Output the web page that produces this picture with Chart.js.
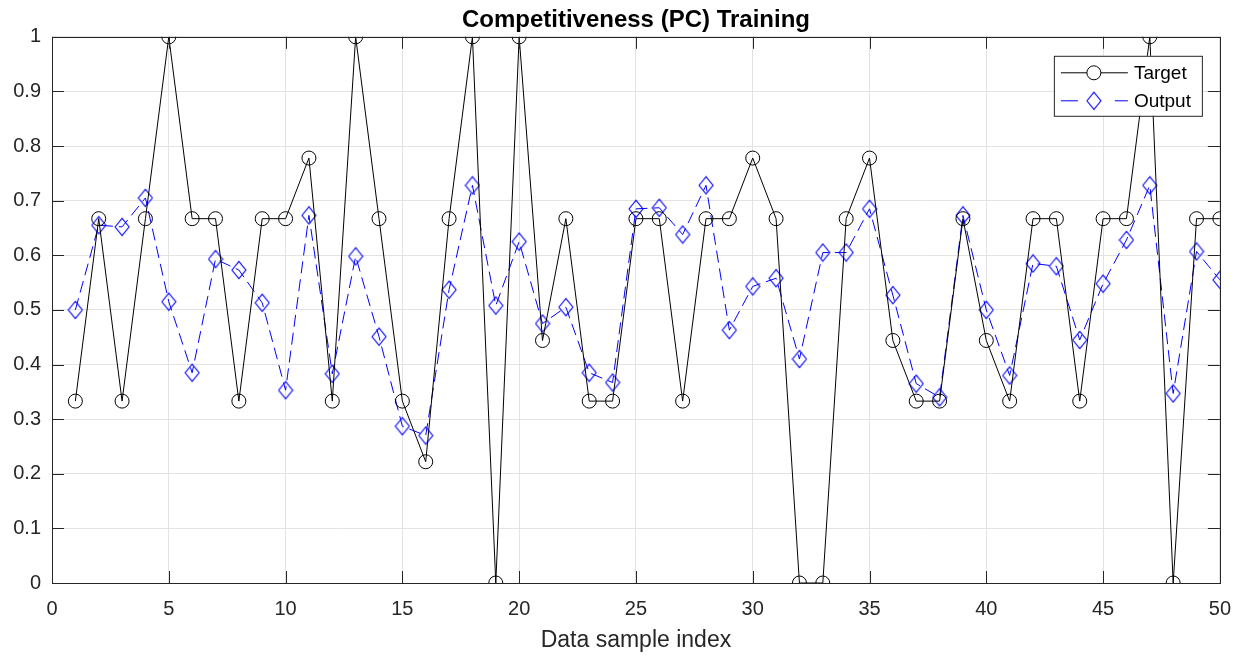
<!DOCTYPE html>
<html>
<head>
<meta charset="utf-8">
<script src="https://cdn.jsdelivr.net/npm/chart.js@4.4.1/dist/chart.umd.min.js"></script>
<style>
  html, body { margin: 0; padding: 0; background: #fff; }
  #wrap { width: 1245px; height: 657px; }
</style>
</head>
<body>
<div id="wrap"><canvas id="chartResults"></canvas></div>
<script>
'use strict';

// data
var sampleIndex = [];
for (let i = 1; i <= 50; ++i) sampleIndex.push(i);

var targetValues = [
  0.333, 0.667, 0.333, 0.667, 1, 0.667, 0.667, 0.333, 0.667, 0.667,
  0.778, 0.333, 1, 0.667, 0.333, 0.222, 0.667, 1, 0, 1,
  0.444, 0.667, 0.333, 0.333, 0.667, 0.667, 0.333, 0.667, 0.667, 0.778,
  0.667, 0, 0, 0.667, 0.778, 0.444, 0.333, 0.333, 0.667, 0.444,
  0.333, 0.667, 0.667, 0.333, 0.667, 0.667, 1, 0, 0.667, 0.667
];

var outputValues = [
  0.500, 0.655, 0.652, 0.705, 0.515, 0.385, 0.593, 0.573, 0.513, 0.353,
  0.673, 0.383, 0.598, 0.451, 0.287, 0.270, 0.537, 0.728, 0.508, 0.625,
  0.475, 0.505, 0.385, 0.367, 0.685, 0.687, 0.638, 0.728, 0.463, 0.543,
  0.558, 0.410, 0.605, 0.605, 0.685, 0.527, 0.365, 0.340, 0.673, 0.500,
  0.380, 0.585, 0.580, 0.445, 0.548, 0.628, 0.728, 0.347, 0.607, 0.555
];

var xTicks = [0, 5, 10, 15, 20, 25, 30, 35, 40, 45, 50];
var yTicks = [0, 0.1, 0.2, 0.3, 0.4, 0.5, 0.6, 0.7, 0.8, 0.9, 1];

function toPoints(vals){
  return vals.map(function(v, i){ return { x: sampleIndex[i], y: v }; });
}

var FONT = '"Liberation Sans", Arial, Helvetica, sans-serif';
var AXIS_COLOR = '#262626';
var TITLE = 'Competitiveness (PC) Training';

// matlab style diamond marker is a bit taller than wide
function makeDiamond(color){
  var c = document.createElement('canvas');
  c.width = 16; c.height = 20;
  var g = c.getContext('2d');
  g.strokeStyle = color;
  g.lineWidth = 1.1;
  g.beginPath();
  g.moveTo(1, 10); g.lineTo(8, 1.3); g.lineTo(15, 10); g.lineTo(8, 18.7);
  g.closePath();
  g.stroke();
  return c;
}
var diamondMarker = makeDiamond('#0000ff');

// box, inward ticks, title and legend like the original figure
var matlabAxes = {
  id: 'matlabAxes',
  afterDraw: function(chart){
    var ctx = chart.ctx;
    var a = chart.chartArea;
    var xs = chart.scales.x, ys = chart.scales.y;
    var tl = 12;
    ctx.save();
    ctx.strokeStyle = AXIS_COLOR;
    ctx.lineWidth = 1;
    ctx.beginPath();
    xTicks.forEach(function(t){
      var px = Math.round(xs.getPixelForValue(t)) + 0.5;
      ctx.moveTo(px, a.bottom); ctx.lineTo(px, a.bottom - tl);
      ctx.moveTo(px, a.top); ctx.lineTo(px, a.top + tl);
    });
    yTicks.forEach(function(t){
      var py = Math.round(ys.getPixelForValue(t)) + 0.5;
      ctx.moveTo(a.left, py); ctx.lineTo(a.left + tl, py);
      ctx.moveTo(a.right, py); ctx.lineTo(a.right - tl, py);
    });
    ctx.stroke();
    ctx.strokeRect(Math.round(a.left) + 0.5, Math.round(a.top) + 0.5,
      Math.round(a.right - a.left), Math.round(a.bottom - a.top));

    // title centred over the axes, not the canvas
    ctx.fillStyle = '#000';
    ctx.font = 'bold 24px ' + FONT;
    ctx.textAlign = 'center';
    ctx.textBaseline = 'middle';
    ctx.fillText(TITLE, (a.left + a.right) / 2, 20);

    // legend
    var lx = a.right - 166, ly = a.top + 19, lw = 148, lh = 60;
    ctx.fillStyle = '#fff';
    ctx.fillRect(lx, ly, lw, lh);
    ctx.strokeStyle = '#262626';
    ctx.strokeRect(lx + 0.5, ly + 0.5, lw, lh);
    chart.data.datasets.forEach(function(ds, i){
      var cy = ly + 17 + i * 28;
      ctx.strokeStyle = ds.borderColor;
      ctx.lineWidth = 1;
      ctx.setLineDash(ds.borderDash || []);
      ctx.beginPath();
      if (ds.borderDash) {
        ctx.moveTo(lx + 7, cy); ctx.lineTo(lx + 24, cy);
        ctx.moveTo(lx + 61, cy); ctx.lineTo(lx + 74, cy);
      } else {
        ctx.moveTo(lx + 7, cy); ctx.lineTo(lx + 74, cy);
      }
      ctx.setLineDash([]);
      ctx.stroke();
      ctx.fillStyle = '#fff';
      ctx.strokeStyle = ds.pointBorderColor;
      Chart.helpers.drawPoint(ctx, {
        pointStyle: ds.pointStyle, radius: ds.pointRadius,
        borderWidth: 1, rotation: 0
      }, lx + 40, cy);
      ctx.fillStyle = '#000';
      ctx.font = '19px ' + FONT;
      ctx.textBaseline = 'middle';
      ctx.textAlign = 'left';
      ctx.fillText(ds.label, lx + 80, cy + 1);
    });
    ctx.restore();
  }
};

var ctx = document.getElementById('chartResults').getContext('2d');
var chart = new Chart(ctx, {
  type: 'line',
  data: {
    datasets: [{
      label: 'Target',
      data: toPoints(targetValues),
      borderColor: '#000000',
      borderWidth: 1,
      pointStyle: 'circle',
      pointRadius: 7,
      pointBorderWidth: 1,
      pointBorderColor: '#000000',
      pointBackgroundColor: 'rgba(0,0,0,0)',
      tension: 0
    }, {
      label: 'Output',
      data: toPoints(outputValues),
      borderColor: '#0000ff',
      borderWidth: 1,
      borderDash: [12, 6],
      pointStyle: diamondMarker,
      pointRadius: 8,
      pointBorderWidth: 1,
      pointBorderColor: '#0000ff',
      pointBackgroundColor: 'rgba(0,0,0,0)',
      tension: 0
    }]
  },
  options: {
    responsive: true,
    maintainAspectRatio: false,
    animation: false,
    layout: { padding: { top: 0, right: 23, bottom: 0, left: 0 } },
    plugins: {
      legend: { display: false },
      tooltip: { enabled: false },
      title: {
        // keeps the space; the text itself is drawn by matlabAxes
        display: true,
        text: TITLE,
        color: 'rgba(0,0,0,0)',
        font: { family: FONT, size: 24, weight: 'bold', lineHeight: 1.2 },
        padding: { top: 6, bottom: 2 }
      }
    },
    scales: {
      x: {
        type: 'linear',
        min: 0, max: 50,
        afterFit: function(s){ s.height = 74; },
        afterBuildTicks: function(s){ s.ticks = xTicks.map(function(v){ return { value: v }; }); },
        grid: { color: '#e3e3e3', drawTicks: false },
        border: { display: false },
        ticks: { color: AXIS_COLOR, padding: 14, maxRotation: 0,
          font: { family: FONT, size: 20 } },
        title: {
          display: true, text: 'Data sample index', color: AXIS_COLOR,
          font: { family: FONT, size: 23 }, padding: { top: 0, bottom: 3 }
        }
      },
      y: {
        min: 0, max: 1,
        afterFit: function(s){ s.width = 52; },
        afterBuildTicks: function(s){ s.ticks = yTicks.map(function(v){ return { value: v }; }); },
        grid: { color: '#e3e3e3', drawTicks: false },
        border: { display: false },
        ticks: { color: AXIS_COLOR, padding: 11,
          font: { family: FONT, size: 20 },
          callback: function(v){ return String(Math.round(v * 10) / 10); } }
      }
    }
  },
  plugins: [matlabAxes]
});
</script>
</body>
</html>
